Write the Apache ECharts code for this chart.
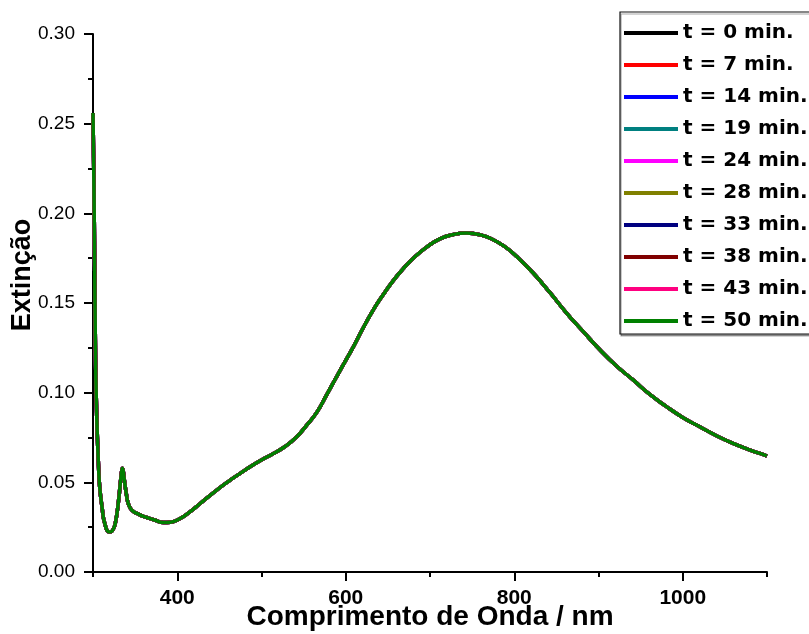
<!DOCTYPE html>
<html>
<head>
<meta charset="utf-8">
<script src="https://cdn.jsdelivr.net/npm/echarts@6/dist/echarts.min.js"></script>
<style>
html,body{margin:0;padding:0;background:#fff;}
#chart{width:809px;height:634px;}
</style>
</head>
<body>
<div id="chart"></div>
<script>
// Wavelength (nm)
const wavelengths = [300, 301, 302, 303, 304, 305, 306.6, 308, 310.7, 314, 319.3, 323, 326.4, 330.4, 333, 335.1, 337, 339.5, 342, 346.2, 355, 364, 373, 383.7, 392, 403.5, 415, 427.2, 445, 462.8, 474.7, 486.5, 500, 514.2, 528, 541.9, 553, 565.6, 577, 589.3, 600, 609, 620, 632.7, 645, 656.4, 668, 680.2, 696, 711.8, 728, 743.5, 760, 775.1, 790, 802.8, 822.5, 842, 862.1, 882, 901.6, 921, 941.1, 961, 980.7, 1000, 1020.2, 1040, 1059.7, 1080, 1097.3, 1100];
// Extinction (identical within reading precision for all times)
const extinction = [0.256, 0.22, 0.17, 0.12, 0.095, 0.078, 0.0587, 0.047, 0.0363, 0.027, 0.0223, 0.023, 0.027, 0.040, 0.052, 0.0578, 0.052, 0.0438, 0.038, 0.0345, 0.032, 0.0304, 0.029, 0.0276, 0.0278, 0.0298, 0.0335, 0.0382, 0.045, 0.0512, 0.055, 0.0587, 0.0625, 0.0661, 0.070, 0.0754, 0.0815, 0.0890, 0.0985, 0.1090, 0.1180, 0.1255, 0.1355, 0.1462, 0.1550, 0.1625, 0.1690, 0.1750, 0.1812, 0.1858, 0.1882, 0.189, 0.188, 0.1853, 0.181, 0.176, 0.1667, 0.156, 0.1444, 0.134, 0.1239, 0.115, 0.1071, 0.099, 0.0922, 0.0862, 0.081, 0.076, 0.0717, 0.068, 0.0652, 0.0647];
const seriesNames = ['t = 0 min.', 't = 7 min.', 't = 14 min.', 't = 19 min.', 't = 24 min.', 't = 28 min.', 't = 33 min.', 't = 38 min.', 't = 43 min.', 't = 50 min.'];
const seriesColors = ['#000000', '#FF0000', '#0000FF', '#008080', '#FF00FF', '#808000', '#000080', '#800000', '#FF0080', '#008000'];
const yTicks = [0, 0.05, 0.10, 0.15, 0.20, 0.25, 0.30];
const xMajorTicks = [400, 600, 800, 1000];
const xMinorTicks = [300, 500, 700, 900, 1100];

const FONT = '"Liberation Sans", Arial, Helvetica, sans-serif';
const LEGEND_FONT = '"DejaVu Sans", "Liberation Sans", sans-serif';
const pairs = wavelengths.map((w, i) => [w, extinction[i]]);

const series = seriesNames.map((name, i) => ({
  name: name,
  type: 'line',
  xAxisIndex: 0,
  yAxisIndex: 0,
  data: pairs,
  showSymbol: false,
  symbol: 'none',
  smooth: 0.5,
  lineStyle: { color: seriesColors[i], width: 3.5 },
  itemStyle: { color: seriesColors[i] },
  emphasis: { disabled: true },
  animation: false,
  z: 2 + i
}));

const chart = echarts.init(document.getElementById('chart'), null, { renderer: 'canvas' });
chart.setOption({
  backgroundColor: '#ffffff',
  animation: false,
  grid: { left: 93, right: 42, top: 34, bottom: 62, containLabel: false, outerBoundsMode: 'none' },
  xAxis: [{
    type: 'value',
    min: 300, max: 1100,
    position: 'bottom',
    name: 'Comprimento de Onda / nm',
    nameLocation: 'middle',
    nameGap: 31,
    nameMoveOverlap: false,
    nameTextStyle: { fontFamily: FONT, fontSize: 28, fontWeight: 'bold', color: '#000' },
    axisLine: { show: true, onZero: false, lineStyle: { color: '#000', width: 2 } },
    axisTick: { show: true, inside: false, length: 9, customValues: xMajorTicks, lineStyle: { color: '#000', width: 2 } },
    axisLabel: { show: true, customValues: xMajorTicks, margin: 16, fontFamily: FONT, fontSize: 21, fontWeight: 'bold', color: '#000', formatter: v => String(v) },
    splitLine: { show: false }
  }, {
    type: 'value',
    min: 300, max: 1100,
    position: 'bottom',
    axisLine: { show: false },
    axisTick: { show: true, inside: false, length: 5, customValues: xMinorTicks, lineStyle: { color: '#000', width: 2 } },
    axisLabel: { show: false },
    splitLine: { show: false }
  }],
  yAxis: [{
    type: 'value',
    min: 0, max: 0.30, interval: 0.05,
    name: 'Extinção',
    nameLocation: 'middle',
    nameRotate: 90,
    nameGap: 57,
    nameMoveOverlap: false,
    nameTextStyle: { fontFamily: FONT, fontSize: 27, fontWeight: 'bold', color: '#000', padding: [0, 0, 0, 56] },
    axisLine: { show: true, onZero: false, lineStyle: { color: '#000', width: 2 } },
    axisTick: { show: true, inside: false, length: 9, lineStyle: { color: '#000', width: 2 } },
    minorTick: { show: true, splitNumber: 2, length: 5, lineStyle: { color: '#000', width: 2 } },
    axisLabel: { margin: 18, fontFamily: FONT, fontSize: 19, color: '#000', formatter: v => v.toFixed(2) },
    splitLine: { show: false },
    minorSplitLine: { show: false }
  }],
  legend: {
    data: seriesNames,
    orient: 'vertical',
    left: 620,
    top: 12,
    padding: [10, 30, 2, 4],
    itemGap: 10,
    itemWidth: 54,
    itemHeight: 4,
    itemTextGap: 7,
    icon: 'rect',
    selectedMode: false,
    backgroundColor: '#ffffff',
    borderColor: '#111',
    borderWidth: 1.2,
    shadowColor: 'rgba(0,0,0,0.35)',
    shadowOffsetX: 1,
    shadowOffsetY: 2,
    shadowBlur: 0,
    textStyle: { fontFamily: LEGEND_FONT, fontSize: 20, fontWeight: 'bold', color: '#000', lineHeight: 22 }
  },
  series: series
});
</script>
</body>
</html>
